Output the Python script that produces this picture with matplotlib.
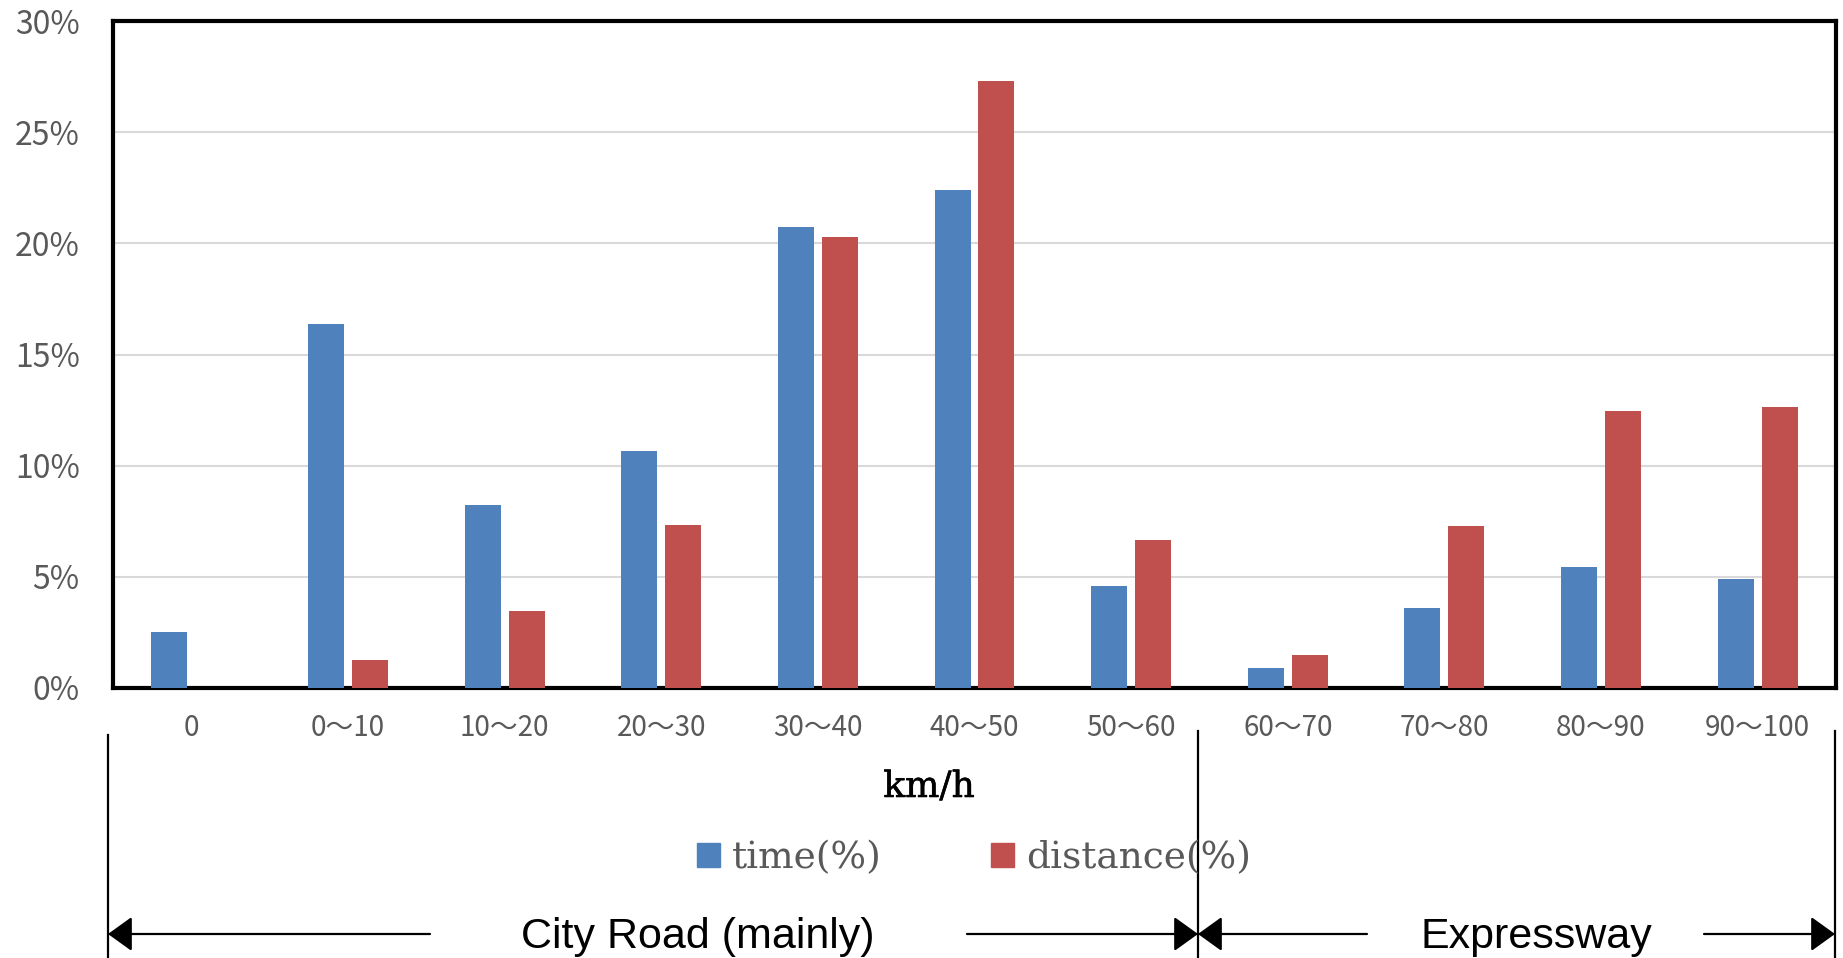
import matplotlib
matplotlib.use("Agg")
import matplotlib.pyplot as plt
from matplotlib.patches import Patch
import matplotlib.patheffects as pe
import numpy as np

categories = ["0", "0～10", "10～20", "20～30", "30～40", "40～50", "50～60",
              "60～70", "70～80", "80～90", "90～100"]
time_pct = [2.5, 16.35, 8.25, 10.65, 20.75, 22.4, 4.6, 0.9, 3.6, 5.45, 4.9]
dist_pct = [0.0, 1.25, 3.45, 7.35, 20.3, 27.3, 6.65, 1.5, 7.3, 12.45, 12.65]
yticks = [0, 5, 10, 15, 20, 25, 30]
ytick_labels = ["0%", "5%", "10%", "15%", "20%", "25%", "30%"]

BLUE = "#4F81BD"
RED = "#C0504D"
GRAY = "#595959"

W, H = 1843, 958
fig = plt.figure(figsize=(W / 100, H / 100), dpi=100)
ax = fig.add_axes([113 / W, 1 - 688 / H, (1836 - 113) / W, (688 - 21) / H])

x = np.arange(len(categories))
bw = 0.23
ax.bar(x - 0.14, time_pct, bw, color=BLUE, zorder=3)
ax.bar(x + 0.14, dist_pct, bw, color=RED, zorder=3)

ax.set_xlim(-0.5, len(categories) - 0.5)
ax.set_ylim(0, 30)
ax.set_yticks(yticks)
ax.set_yticklabels(ytick_labels, family=["Noto Sans CJK JP", "DejaVu Sans"],
                   fontsize=23, color=GRAY)
ax.set_xticks(x)
ax.set_xticklabels(categories, family=["Noto Sans CJK JP", "DejaVu Sans"],
                   fontsize=20, color=GRAY)
ax.tick_params(axis="y", length=0, pad=24)
ax.tick_params(axis="x", length=0, pad=18)
ax.yaxis.grid(True, color="#D9D9D9", lw=1.5, zorder=0)
ax.set_axisbelow(True)
for s in ax.spines.values():
    s.set_color("black")
    s.set_linewidth(3.0)

# x-axis unit label
fig.text(929 / W, 1 - 787 / H, "km/h", ha="center", va="center",
         family="DejaVu Serif", fontsize=26, color="black",
         path_effects=[pe.withStroke(linewidth=0.4, foreground="black")])

# legend
handles = [Patch(color=BLUE), Patch(color=RED)]
leg = fig.legend(handles, ["time(%)", "distance(%)"], loc="center",
                 bbox_to_anchor=(974 / W, 1 - 858 / H), ncol=2, frameon=False,
                 prop={"family": "DejaVu Serif", "size": 27},
                 handlelength=0.63, handleheight=0.63, handletextpad=0.32,
                 columnspacing=2.9, borderpad=0)
for t in leg.get_texts():
    t.set_color(GRAY)

# road-type annotations
def fx(px):
    return px / W

def fy(py):
    return 1 - py / H

ln_kw = dict(color="black", lw=1.6)
for xv, ytop in [(108, 735), (1198, 731), (1835, 731)]:
    fig.add_artist(plt.Line2D([fx(xv), fx(xv)], [fy(ytop), 0], **ln_kw))

ya = fy(934)
arrows = [(430, 108), (967, 1198), (1367, 1198), (1704, 1835)]
for x0, x1 in arrows:
    fig.add_artist(matplotlib.patches.FancyArrowPatch(
        (fx(x0), ya), (fx(x1), ya), transform=fig.transFigure,
        arrowstyle="-|>,head_length=0.5,head_width=0.36", mutation_scale=30,
        color="black", lw=1.6, shrinkA=0, shrinkB=0))

fig.text(698 / W, fy(937), "City Road (mainly)", ha="center", va="center",
         family="Liberation Sans", fontsize=31, color="black")
fig.text(1536 / W, fy(937), "Expressway", ha="center", va="center",
         family="Liberation Sans", fontsize=31, color="black")

fig.savefig("out.png", dpi=100)
